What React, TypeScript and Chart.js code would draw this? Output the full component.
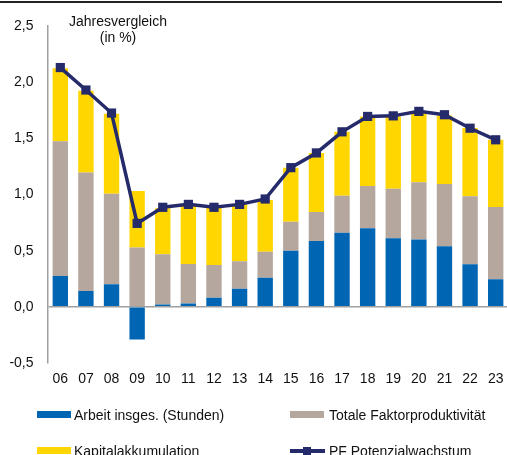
import React, { useEffect, useRef } from "react";
import { Chart, registerables } from "chart.js";

Chart.register(...registerables);

const years = ["06","07","08","09","10","11","12","13","14","15","16","17","18","19","20","21","22","23"];
const arbeit = [0.275,0.14,0.20,-0.29,0.02,0.03,0.08,0.16,0.26,0.50,0.585,0.66,0.70,0.61,0.60,0.54,0.38,0.245];
const tfp = [1.20,1.055,0.807,0.528,0.449,0.352,0.293,0.246,0.23,0.257,0.259,0.329,0.376,0.442,0.509,0.554,0.604,0.643];
const kapital = [0.65,0.729,0.712,0.503,0.408,0.515,0.517,0.506,0.461,0.482,0.526,0.569,0.619,0.643,0.616,0.61,0.607,0.599];
const potenzial = [2.13,1.93,1.725,0.743,0.886,0.912,0.886,0.912,0.96,1.239,1.37,1.558,1.695,1.70,1.74,1.71,1.59,1.487];

const BLUE = "#0066B3";
const GREY = "#B5A79E";
const YELLOW = "#FFD600";
const NAVY = "#252A6A";
const FONT = "'Liberation Sans', Arial, sans-serif";

export default function App() {
  const ref = useRef<HTMLCanvasElement | null>(null);
  useEffect(() => {
    if (!ref.current) return;
    const chart = new Chart(ref.current, {
      type: "bar",
      data: {
        labels: years,
        datasets: [
          { type: "line", label: "PF Potenzialwachstum", data: potenzial, borderColor: NAVY, backgroundColor: NAVY, borderWidth: 3.5, pointStyle: "rect", pointRadius: 6.5, pointBackgroundColor: NAVY, pointBorderWidth: 0, stack: "line", order: 0, tension: 0 } as any,
          { label: "Arbeit insges. (Stunden)", data: arbeit, backgroundColor: BLUE, stack: "bars", order: 1 },
          { label: "Totale Faktorproduktivität", data: tfp, backgroundColor: GREY, stack: "bars", order: 1 },
          { label: "Kapitalakkumulation", data: kapital, backgroundColor: YELLOW, stack: "bars", order: 1 },
        ],
      },
      options: {
        animation: false,
        responsive: false,
        maintainAspectRatio: false,
        layout: { padding: { top: 26, right: 4, bottom: 62, left: 0 } },
        datasets: { bar: { barPercentage: 0.6, categoryPercentage: 1 } } as any,
        plugins: { legend: { display: false }, tooltip: { enabled: false } },
        scales: {
          x: {
            stacked: true,
            offset: true,
            grid: { display: false, drawTicks: false },
            border: { display: false },
            ticks: { color: "#111", font: { family: FONT, size: 14 }, padding: 8, maxRotation: 0, autoSkip: false },
            afterFit: (s: any) => { s.height = 30; },
          },
          y: {
            stacked: true,
            min: -0.5,
            max: 2.5,
            ticks: {
              stepSize: 0.5,
              color: "#111",
              font: { family: FONT, size: 14 },
              padding: 14,
              callback: (v: any) => Number(v).toFixed(1).replace(".", ","),
            },
            grid: {
              drawTicks: false,
              color: (ctx: any) => (ctx.tick && ctx.tick.value === 0 ? "#A0A0A0" : "rgba(0,0,0,0)"),
              lineWidth: 1.5,
            },
            border: { display: true, color: "#A0A0A0", width: 1.5 },
            afterFit: (s: any) => { s.width = 47.5; },
          },
        },
      },
    });
    return () => chart.destroy();
  }, []);

  const txt: React.CSSProperties = { position: "absolute", fontFamily: FONT, fontSize: 14, color: "#111", whiteSpace: "nowrap", lineHeight: "16px" };
  const sw = (left: number, top: number, color: string): React.CSSProperties => ({ position: "absolute", left, top, width: 34, height: 7, background: color });

  return (
    <div style={{ position: "absolute", left: 0, top: 0, width: 507, height: 455, overflow: "hidden", background: "#fff" }}>
      <canvas ref={ref} width={515} height={455} style={{ position: "absolute", left: 0, top: 0, width: 515, height: 455 }} />
      <div style={{ position: "absolute", left: 0, top: 1, width: 502, height: 2, background: "#222" }} />
      <div style={{ ...txt, left: 118, top: 13, transform: "translateX(-50%)", textAlign: "center" }}>
        Jahresvergleich<br />(in %)
      </div>
      <div style={sw(37, 411, BLUE)} />
      <div style={{ ...txt, left: 74, top: 407 }}>Arbeit insges. (Stunden)</div>
      <div style={sw(290, 411, GREY)} />
      <div style={{ ...txt, left: 329, top: 407 }}>Totale Faktorproduktivität</div>
      <div style={sw(37, 447, YELLOW)} />
      <div style={{ ...txt, left: 74, top: 443 }}>Kapitalakkumulation</div>
      <div style={{ position: "absolute", left: 290, top: 449, width: 35, height: 4, background: NAVY }} />
      <div style={{ position: "absolute", left: 303, top: 447, width: 8, height: 8, background: NAVY }} />
      <div style={{ ...txt, left: 329, top: 443 }}>PF Potenzialwachstum</div>
    </div>
  );
}
